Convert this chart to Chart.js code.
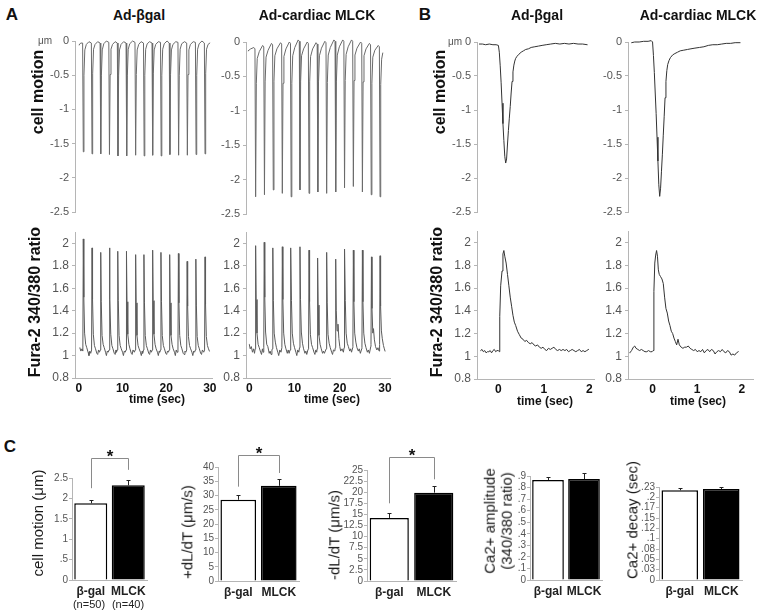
<!DOCTYPE html>
<html>
<head>
<meta charset="utf-8">
<script src="https://cdn.jsdelivr.net/npm/chart.js@4.4.1/dist/chart.umd.min.js"></script>
<style>
  html, body { margin: 0; padding: 0; background: #fff; }
  #fig { position: relative; width: 761px; height: 614px; overflow: hidden;
         font-family: "Liberation Sans", Arial, sans-serif; }
  #fig canvas { position: absolute; }
  .t { position: absolute; white-space: nowrap; color: #111; line-height: 1.15;
       text-align: center; transform: translate(-50%, -50%); }
  .v { transform: translate(-50%, -50%) rotate(-90deg); }
</style>
</head>
<body>
<div id="fig">
  <canvas id="amL"></canvas><canvas id="amR"></canvas>
  <canvas id="acL"></canvas><canvas id="acR"></canvas>
  <canvas id="bmL"></canvas><canvas id="bmR"></canvas>
  <canvas id="bcL"></canvas><canvas id="bcR"></canvas>
  <canvas id="c1"></canvas><canvas id="c2"></canvas><canvas id="c3"></canvas>
  <canvas id="c4"></canvas><canvas id="c5"></canvas>
</div>
<script>
// ---- Panel A: 30 s recordings, [time s, value] ----
var motionBgal30 = [
  [0.0,-0.06],[0.4,-0.03],
  [0.85,-0.03],[1.0,-1.62],[1.15,-0.5],[1.35,-0.13],[1.7,-0.05],[2.3,-0.01],
  [2.85,-0.03],[3.0,-1.65],[3.15,-0.48],[3.35,-0.12],[3.7,-0.05],[4.3,-0.01],
  [4.85,-0.03],[5.0,-1.65],[5.15,-0.5],[5.35,-0.13],[5.7,-0.04],[6.3,0.0],
  [6.85,-0.02],[7.0,-1.66],[7.15,-0.49],[7.35,-0.12],[7.7,-0.05],[8.3,-0.01],
  [8.8,-0.03],[8.95,-1.68],[9.1,-0.5],[9.3,-0.13],[9.65,-0.05],[10.25,-0.01],
  [10.8,-0.03],[10.95,-1.68],[11.1,-0.51],[11.3,-0.12],[11.65,-0.04],[12.3,0.0],
  [12.85,-0.02],[13.0,-1.67],[13.15,-0.49],[13.35,-0.13],[13.7,-0.05],[14.25,-0.01],
  [14.8,-0.03],[14.95,-1.68],[15.1,-0.5],[15.3,-0.12],[15.65,-0.04],[16.2,-0.01],
  [16.75,-0.03],[16.9,-1.67],[17.05,-0.48],[17.25,-0.13],[17.6,-0.05],[18.2,-0.01],
  [18.7,-0.02],[18.85,-1.68],[19.0,-0.5],[19.2,-0.12],[19.55,-0.04],[20.2,0.0],
  [20.7,-0.03],[20.85,-1.66],[21.0,-0.49],[21.2,-0.13],[21.55,-0.05],[22.2,-0.01],
  [22.7,-0.02],[22.85,-1.67],[23.0,-0.5],[23.2,-0.12],[23.55,-0.04],[24.2,-0.01],
  [24.7,-0.03],[24.85,-1.67],[25.0,-0.49],[25.2,-0.13],[25.55,-0.05],[26.2,-0.01],
  [26.7,-0.02],[26.85,-1.66],[27.0,-0.5],[27.2,-0.12],[27.55,-0.04],[28.2,0.0],
  [28.75,-0.03],[28.9,-1.65],[29.05,-0.48],[29.25,-0.12],[29.6,-0.05],[30.0,-0.03]
];
var motionMlck30 = [
  [-0.3,-0.13],[0.3,-0.1],[1.0,-0.08],
  [1.25,-0.1],[1.4,-2.25],[1.55,-0.6],[1.75,-0.24],[2.2,-0.14],[2.95,-0.05],
  [3.2,-0.07],[3.35,-2.22],[3.5,-0.58],[3.7,-0.22],[4.15,-0.12],[4.9,-0.02],
  [5.15,-0.04],[5.3,-2.15],[5.45,-0.57],[5.65,-0.2],[6.1,-0.1],[6.9,-0.01],
  [7.15,-0.03],[7.3,-2.2],[7.45,-0.6],[7.65,-0.21],[8.1,-0.1],[8.85,0.0],
  [9.1,-0.02],[9.25,-2.25],[9.4,-0.6],[9.6,-0.2],[10.05,-0.08],[10.8,0.03],
  [11.05,0.01],[11.2,-2.15],[11.35,-0.57],[11.55,-0.2],[12.0,-0.1],[12.8,0.0],
  [13.05,-0.02],[13.2,-2.2],[13.35,-0.58],[13.55,-0.21],[14.0,-0.1],[14.75,-0.01],
  [15.0,-0.03],[15.15,-2.18],[15.3,-0.58],[15.5,-0.2],[15.95,-0.09],[16.7,0.01],
  [16.95,-0.01],[17.1,-2.2],[17.25,-0.59],[17.45,-0.19],[17.9,-0.08],[18.7,0.03],
  [18.95,0.01],[19.1,-2.18],[19.25,-0.58],[19.45,-0.19],[19.9,-0.07],[20.65,0.03],
  [20.9,0.01],[21.05,-2.12],[21.2,-0.56],[21.4,-0.18],[21.85,-0.07],[22.6,0.03],
  [22.85,0.01],[23.0,-2.1],[23.15,-0.56],[23.35,-0.19],[23.8,-0.09],[24.6,0.0],
  [24.85,-0.02],[25.0,-2.18],[25.15,-0.58],[25.35,-0.2],[25.8,-0.1],[26.55,-0.02],
  [26.8,-0.04],[26.95,-2.22],[27.1,-0.6],[27.3,-0.22],[27.75,-0.12],[28.5,-0.05],
  [28.75,-0.07],[28.9,-2.25],[29.05,-0.62],[29.25,-0.25],[29.5,-0.16]
];
var fluoBgal30 = [
  [0.2,1.07],[0.45,1.04],[0.7,1.06],
  [0.9,1.04],[1.0,2.04],[1.12,1.52],[1.3,1.2],[1.55,1.1],[1.8,1.07],[2.1,1.03],[2.3,1.0],[2.5,1.04],[2.7,1.02],
  [2.9,1.05],[3.0,1.96],[3.12,1.5],[3.3,1.19],[3.55,1.09],[3.8,1.06],[4.1,1.02],[4.3,1.01],[4.5,1.05],[4.7,1.03],
  [4.9,1.05],[5.0,1.92],[5.12,1.48],[5.3,1.18],[5.55,1.1],[5.8,1.07],[6.1,1.03],[6.3,1.0],[6.5,1.04],[6.7,1.03],
  [6.9,1.05],[7.0,1.96],[7.12,1.5],[7.3,1.19],[7.55,1.09],[7.8,1.06],[8.1,1.02],[8.3,1.01],[8.5,1.05],[8.6,1.03],
  [8.8,1.05],[8.9,1.93],[9.02,1.49],[9.2,1.18],[9.45,1.09],[9.7,1.06],[10.0,1.03],[10.2,1.0],[10.4,1.04],[10.6,1.03],
  [10.8,1.05],[10.9,1.93],[11.02,1.48],[11.2,1.19],[11.45,1.1],[11.7,1.06],[12.0,1.02],[12.2,1.01],[12.4,1.05],[12.7,1.03],
  [12.9,1.05],[13.0,1.9],[13.12,1.47],[13.3,1.18],[13.55,1.09],[13.8,1.06],[14.1,1.03],[14.3,1.0],[14.5,1.04],[14.6,1.02],
  [14.8,1.05],[14.9,1.9],[15.02,1.47],[15.2,1.18],[15.45,1.09],[15.7,1.06],[16.0,1.02],[16.2,1.01],[16.4,1.05],[16.6,1.03],
  [16.8,1.05],[16.9,1.94],[17.02,1.49],[17.2,1.19],[17.45,1.1],[17.7,1.06],[18.0,1.03],[18.2,1.0],[18.4,1.04],[18.5,1.03],
  [18.7,1.05],[18.8,1.92],[18.92,1.48],[19.1,1.18],[19.35,1.09],[19.6,1.06],[19.9,1.02],[20.1,1.01],[20.3,1.04],[20.5,1.03],
  [20.7,1.05],[20.8,1.9],[20.92,1.47],[21.1,1.18],[21.35,1.1],[21.6,1.06],[21.9,1.03],[22.1,1.0],[22.3,1.05],[22.5,1.03],
  [22.7,1.05],[22.8,1.91],[22.92,1.47],[23.1,1.18],[23.35,1.09],[23.6,1.06],[23.9,1.02],[24.1,1.01],[24.3,1.04],[24.5,1.03],
  [24.7,1.05],[24.8,1.84],[24.92,1.44],[25.1,1.17],[25.35,1.09],[25.6,1.06],[25.9,1.03],[26.1,1.0],[26.3,1.04],[26.5,1.03],
  [26.7,1.05],[26.8,1.86],[26.92,1.45],[27.1,1.17],[27.35,1.09],[27.6,1.06],[27.9,1.02],[28.1,1.01],[28.3,1.05],[28.6,1.03],
  [28.8,1.05],[28.9,1.88],[29.02,1.46],[29.2,1.17],[29.45,1.09],[29.7,1.06],[29.9,1.04]
];
var fluoMlck30 = [
  [0.0,1.1],[0.2,1.06],[0.45,1.08],[0.7,1.03],[0.95,1.06],[1.15,1.02],
  [1.3,1.06],[1.4,1.98],[1.52,1.5],[1.7,1.2],[1.95,1.1],[2.2,1.07],[2.5,1.03],[2.7,1.01],[2.9,1.06],[3.05,1.03],
  [3.2,1.07],[3.3,2.01],[3.42,1.52],[3.6,1.21],[3.85,1.1],[4.1,1.08],[4.4,1.02],[4.6,1.04],[4.8,1.01],[5.0,1.05],
  [5.1,1.06],[5.2,1.96],[5.32,1.49],[5.5,1.2],[5.75,1.12],[6.0,1.07],[6.3,1.03],[6.5,1.0],[6.75,1.05],[7.0,1.03],
  [7.2,1.07],[7.3,1.97],[7.42,1.5],[7.6,1.2],[7.85,1.1],[8.1,1.06],[8.4,1.02],[8.6,1.05],[8.8,1.02],[9.0,1.05],
  [9.1,1.06],[9.2,1.96],[9.32,1.49],[9.5,1.2],[9.75,1.11],[10.0,1.07],[10.3,1.03],[10.5,1.0],[10.7,1.05],[10.95,1.03],
  [11.1,1.07],[11.2,1.97],[11.32,1.5],[11.5,1.21],[11.75,1.11],[12.0,1.06],[12.3,1.02],[12.5,1.04],[12.7,1.01],[12.95,1.05],
  [13.1,1.06],[13.2,1.94],[13.32,1.48],[13.5,1.19],[13.75,1.1],[14.0,1.07],[14.3,1.03],[14.5,1.01],[14.7,1.05],[14.9,1.03],
  [15.0,1.06],[15.1,1.87],[15.22,1.45],[15.4,1.18],[15.65,1.1],[15.9,1.06],[16.2,1.02],[16.4,1.04],[16.6,1.02],[16.9,1.05],
  [17.0,1.06],[17.1,1.92],[17.22,1.47],[17.4,1.19],[17.65,1.11],[17.9,1.07],[18.2,1.03],[18.4,1.01],[18.6,1.05],[18.9,1.04],
  [19.0,1.07],[19.1,1.86],[19.22,1.4],[19.4,1.22],[19.6,1.28],[19.8,1.15],[20.0,1.08],[20.2,1.04],[20.5,1.06],[20.8,1.03],[20.95,1.07],
  [21.0,1.08],[21.1,1.95],[21.22,1.49],[21.4,1.2],[21.65,1.11],[21.9,1.08],[22.2,1.04],[22.4,1.06],[22.6,1.03],[22.85,1.07],
  [22.9,1.08],[23.0,1.94],[23.12,1.48],[23.3,1.2],[23.55,1.12],[23.8,1.07],[24.1,1.04],[24.3,1.06],[24.55,1.02],[24.85,1.06],
  [24.9,1.07],[25.0,1.94],[25.12,1.48],[25.3,1.2],[25.55,1.11],[25.8,1.07],[26.1,1.03],[26.3,1.05],[26.55,1.02],[26.85,1.08],
  [26.9,1.1],[27.0,1.88],[27.12,1.42],[27.3,1.2],[27.45,1.24],[27.65,1.14],[27.9,1.08],[28.2,1.05],[28.45,1.07],[28.7,1.04],
  [28.8,1.1],[28.9,1.89],[29.02,1.44],[29.2,1.22],[29.4,1.15],[29.65,1.09],[29.85,1.06],[30.0,1.04]
];

// ---- Panel B: single beats, [time s, value] ----
var motionBgal1 = [
  [-0.42,-0.03],[-0.35,-0.03],[-0.28,-0.04],[-0.2,-0.03],[-0.12,-0.04],[-0.05,-0.04],[0.0,-0.05],
  [0.02,-0.15],[0.04,-0.35],[0.06,-0.6],[0.08,-0.9],[0.1,-1.2],[0.12,-1.45],[0.14,-1.68],[0.16,-1.78],
  [0.18,-1.72],[0.2,-1.5],[0.22,-1.3],[0.24,-1.12],[0.26,-0.95],[0.28,-0.75],[0.3,-0.58],[0.32,-0.44],
  [0.34,-0.34],[0.36,-0.28],[0.38,-0.24],[0.41,-0.21],[0.45,-0.18],[0.5,-0.15],[0.55,-0.13],[0.6,-0.11],
  [0.66,-0.1],[0.72,-0.08],[0.8,-0.07],[0.88,-0.06],[0.96,-0.05],[1.05,-0.04],[1.15,-0.03],[1.25,-0.02],
  [1.35,-0.03],[1.45,-0.02],[1.55,-0.03],[1.65,-0.02],[1.75,-0.03],[1.85,-0.03],[1.95,-0.04]
];
var motionMlck1 = [
  [-0.47,-0.01],[-0.4,0.0],[-0.3,0.0],[-0.2,0.01],[-0.1,0.01],[-0.03,0.02],[0.0,0.0],
  [0.02,-0.2],[0.04,-0.45],[0.06,-0.75],[0.08,-1.05],[0.1,-1.4],[0.12,-1.75],[0.14,-2.1],[0.16,-2.27],
  [0.18,-2.15],[0.2,-1.9],[0.22,-1.65],[0.24,-1.37],[0.26,-1.1],[0.28,-0.82],[0.3,-0.58],[0.32,-0.42],
  [0.34,-0.33],[0.37,-0.27],[0.4,-0.23],[0.45,-0.19],[0.5,-0.17],[0.56,-0.15],[0.62,-0.13],[0.7,-0.12],
  [0.78,-0.11],[0.86,-0.1],[0.95,-0.09],[1.05,-0.08],[1.15,-0.07],[1.25,-0.05],[1.35,-0.04],[1.45,-0.04],
  [1.55,-0.03],[1.65,-0.02],[1.75,-0.02],[1.85,-0.01],[1.96,-0.01]
];
var fluoBgal1 = [
  [-0.39,1.05],[-0.36,1.06],[-0.33,1.04],[-0.3,1.05],[-0.27,1.03],[-0.24,1.04],[-0.21,1.04],[-0.18,1.05],
  [-0.15,1.03],[-0.12,1.05],[-0.09,1.06],[-0.06,1.04],[-0.03,1.05],[0.0,1.05],[0.02,1.04],[0.03,1.35],
  [0.05,1.62],[0.08,1.75],[0.1,1.9],[0.12,1.93],[0.14,1.88],[0.17,1.82],[0.2,1.72],[0.23,1.62],[0.26,1.52],
  [0.29,1.44],[0.32,1.36],[0.35,1.3],[0.38,1.27],[0.42,1.22],[0.46,1.19],[0.5,1.16],[0.54,1.15],[0.58,1.13],
  [0.62,1.14],[0.66,1.12],[0.7,1.11],[0.74,1.12],[0.78,1.1],[0.82,1.09],[0.86,1.1],[0.9,1.08],[0.94,1.07],
  [0.98,1.08],[1.02,1.06],[1.06,1.05],[1.1,1.07],[1.14,1.06],[1.18,1.07],[1.22,1.08],[1.26,1.06],[1.3,1.05],
  [1.34,1.06],[1.38,1.05],[1.42,1.06],[1.46,1.05],[1.5,1.06],[1.54,1.04],[1.58,1.05],[1.62,1.06],[1.66,1.05],
  [1.7,1.04],[1.74,1.05],[1.78,1.06],[1.82,1.04],[1.86,1.05],[1.9,1.04],[1.94,1.05],[1.98,1.06]
];
var fluoMlck1 = [
  [-0.51,1.03],[-0.47,1.05],[-0.43,1.08],[-0.4,1.09],[-0.37,1.07],[-0.33,1.06],[-0.29,1.05],[-0.25,1.06],
  [-0.21,1.05],[-0.17,1.04],[-0.13,1.04],[-0.09,1.05],[-0.05,1.04],[-0.01,1.04],[0.01,1.05],[0.03,1.57],
  [0.05,1.82],[0.07,1.89],[0.09,1.93],[0.11,1.88],[0.13,1.76],[0.15,1.72],[0.18,1.7],[0.21,1.68],[0.24,1.64],
  [0.27,1.52],[0.3,1.42],[0.33,1.38],[0.36,1.31],[0.39,1.27],[0.42,1.22],[0.45,1.2],[0.48,1.16],[0.51,1.13],
  [0.54,1.1],[0.57,1.15],[0.6,1.1],[0.64,1.08],[0.68,1.07],[0.72,1.08],[0.76,1.08],[0.8,1.09],[0.84,1.07],
  [0.88,1.06],[0.92,1.05],[0.96,1.06],[1.0,1.04],[1.04,1.05],[1.08,1.04],[1.12,1.06],[1.16,1.03],[1.2,1.05],
  [1.24,1.06],[1.28,1.04],[1.32,1.06],[1.36,1.05],[1.4,1.02],[1.44,1.04],[1.48,1.05],[1.52,1.04],[1.56,1.06],
  [1.6,1.04],[1.64,1.03],[1.68,1.05],[1.72,1.04],[1.76,1.01],[1.8,1.02],[1.84,1.01],[1.88,1.03],[1.92,1.04]
];

// ---- Axis ticks ----
var motionTicks = [-2.5, -2, -1.5, -1, -0.5, 0];
var motionLabels = ['-2.5', '-2', '-1.5', '-1', '-0.5', '0'];
var ratioTicks = [0.8, 1, 1.2, 1.4, 1.6, 1.8, 2];
var ratioLabels = ['0.8', '1', '1.2', '1.4', '1.6', '1.8', '2'];
var time30Ticks = [0, 10, 20, 30];
var time2Ticks = [0, 1, 2];

// ---- Panel C: means and SEM ----
var groups = ['β-gal', 'MLCK'];
var motionMean = [1.88, 2.32];   var motionErr = [0.07, 0.13];
var plusMean = [28.5, 33.4];     var plusErr = [1.8, 2.4];
var minusMean = [14.2, 19.9];    var minusErr = [1.1, 1.5];
var ampMean = [0.865, 0.874];    var ampErr = [0.024, 0.048];
var decayMean = [0.217, 0.220];  var decayErr = [0.006, 0.004];
// significance bracket: left foot, top, right foot, star (data units)
var motionSig = [2.25, 2.99, 2.7, 3.1];
var plusSig = [33.1, 44.2, 37.9, 45.8];
var minusSig = [17.5, 28.0, 22.9, 29.0];

var cMotionTicks = [0, 0.5, 1, 1.5, 2, 2.5];
var cMotionLabels = ['0', '.5', '1', '1.5', '2', '2.5'];
var cPlusTicks = [0, 5, 10, 15, 20, 25, 30, 35, 40];
var cPlusLabels = ['0', '5', '10', '15', '20', '25', '30', '35', '40'];
var cMinusTicks = [0, 2.5, 5, 7.5, 10, 12.5, 15, 17.5, 20, 22.5, 25];
var cMinusLabels = ['0', '2.5', '5', '7.5', '10', '12.5', '15', '17.5', '20', '22.5', '25'];
var cAmpTicks = [0, 0.1, 0.2, 0.3, 0.4, 0.5, 0.6, 0.7, 0.8, 0.9];
var cAmpLabels = ['0', '.1', '.2', '.3', '.4', '.5', '.6', '.7', '.8', '.9'];
var cDecayTicks = [0, 0.025, 0.05, 0.075, 0.1, 0.125, 0.15, 0.175, 0.2, 0.225];
var cDecayLabels = ['0', '.03', '.05', '.08', '.1', '.12', '.15', '.17', '.2', '.23'];

Chart.defaults.font.family = '"Liberation Sans", Arial, sans-serif';
var AXIS = '#b5b5b5';

function xy(pts) {
  return pts.map(function(p) { return { x: p[0], y: p[1] }; });
}

function fixedTicks(vals) {
  return function(s) { s.ticks = vals.map(function(v) { return { value: v }; }); };
}

// trace chart placed so that its plot area lands on 'area'
function traceChart(id, area, pts, color, xr, xTicks, yr, yTicks, yLabels, yFont) {
  var YW = 40, PT = 10, PR = 14, PB = 10, XH = xTicks ? 22 : 0;
  var cv = document.getElementById(id);
  cv.width = area.x1 - area.x0 + YW + PR;
  cv.height = area.y1 - area.y0 + PT + XH + PB;
  cv.style.left = (area.x0 - YW) + 'px';
  cv.style.top = (area.y0 - PT) + 'px';
  new Chart(cv, {
    type: 'line',
    data: { datasets: [{ data: xy(pts), borderColor: color, borderWidth: 1,
      borderJoinStyle: 'round', borderCapStyle: 'round',
      pointRadius: 0, tension: 0, fill: false, clip: false }] },
    options: {
      responsive: false, animation: false, events: [],
      layout: { padding: { left: 0, top: PT, right: PR, bottom: PB } },
      plugins: { legend: { display: false }, tooltip: { enabled: false } },
      scales: {
        x: {
          type: 'linear', min: xr[0], max: xr[1], display: !!xTicks,
          afterBuildTicks: fixedTicks(xTicks || []),
          afterFit: function(s) { s.height = XH; },
          grid: { display: false, drawTicks: false },
          border: { color: AXIS },
          ticks: { autoSkip: false, maxRotation: 0, padding: 3, color: '#111',
            font: { size: 12, weight: 'bold' },
            callback: function(v) { return String(v); } }
        },
        y: {
          min: yr[0], max: yr[1],
          afterBuildTicks: fixedTicks(yTicks),
          afterFit: function(s) { s.width = YW; },
          grid: { display: true, drawOnChartArea: false, tickLength: 3, color: AXIS },
          border: { color: AXIS },
          ticks: { autoSkip: false, padding: 3, color: '#555', font: { size: yFont },
            callback: function(v, i) { return yLabels[i]; } }
        }
      }
    }
  });
}

// error bars and significance bracket for the panel C bar charts
var barExtras = {
  id: 'barExtras',
  afterDatasetsDraw: function(chart, args, opts) {
    var ctx = chart.ctx, xs = chart.scales.x, ys = chart.scales.y;
    var means = chart.data.datasets[0].data;
    ctx.save();
    ctx.strokeStyle = '#222';
    ctx.lineWidth = 1;
    for (var i = 0; i < means.length; i++) {
      var cx = Math.round(xs.getPixelForValue(i)) + 0.5;
      var base = ys.getPixelForValue(means[i]);
      var top = Math.round(ys.getPixelForValue(means[i] + opts.err[i])) + 0.5;
      ctx.beginPath();
      ctx.moveTo(cx, base); ctx.lineTo(cx, top);
      ctx.moveTo(cx - 2, top); ctx.lineTo(cx + 2, top);
      ctx.stroke();
    }
    if (opts.sig) {
      var s = opts.sig;
      var xl = Math.round(xs.getPixelForValue(0)) + 0.5;
      var xr = Math.round(xs.getPixelForValue(1)) + 0.5;
      var yt = Math.round(ys.getPixelForValue(s[1])) + 0.5;
      ctx.strokeStyle = '#8a8a8a';
      ctx.beginPath();
      ctx.moveTo(xl, ys.getPixelForValue(s[0]));
      ctx.lineTo(xl, yt); ctx.lineTo(xr, yt);
      ctx.lineTo(xr, ys.getPixelForValue(s[2]));
      ctx.stroke();
      ctx.fillStyle = '#111';
      ctx.font = 'bold 17px "Liberation Sans", Arial, sans-serif';
      ctx.textAlign = 'center';
      ctx.textBaseline = 'middle';
      ctx.fillText('*', (xl + xr) / 2, ys.getPixelForValue(s[3]) + 4);
    }
    ctx.restore();
  }
};

function barChart(id, area, means, errs, sig, yMax, yTicks, yLabels) {
  var YW = 30, PR = 6, PB = 4, XH = 20, TOP = 440;
  var PT = area.y0 - TOP;
  var cv = document.getElementById(id);
  cv.width = area.x1 - area.x0 + YW + PR;
  cv.height = area.y1 - TOP + XH + PB;
  cv.style.left = (area.x0 - YW) + 'px';
  cv.style.top = TOP + 'px';
  new Chart(cv, {
    type: 'bar',
    data: { labels: groups, datasets: [{ data: means,
      backgroundColor: ['#ffffff', '#000000'], borderColor: '#000',
      borderWidth: 1.5, categoryPercentage: 1, barPercentage: 0.88 }] },
    options: {
      responsive: false, animation: false, events: [],
      layout: { padding: { left: 0, top: PT, right: PR, bottom: PB } },
      plugins: { legend: { display: false }, tooltip: { enabled: false },
        barExtras: { err: errs, sig: sig } },
      scales: {
        x: {
          afterFit: function(s) { s.height = XH; },
          grid: { display: false, drawTicks: false },
          border: { color: AXIS },
          ticks: { padding: 4, color: '#222', autoSkip: false, maxRotation: 0, minRotation: 0,
            font: { size: 12, weight: 'bold' } }
        },
        y: {
          min: 0, max: yMax,
          afterBuildTicks: fixedTicks(yTicks),
          afterFit: function(s) { s.width = YW; },
          grid: { display: true, drawOnChartArea: false, tickLength: 3, color: AXIS },
          border: { color: AXIS },
          ticks: { autoSkip: false, padding: 1, color: '#555', font: { size: 10 },
            callback: function(v, i) { return yLabels[i]; } }
        }
      }
    },
    plugins: [barExtras]
  });
}

function label(text, x, y, css, vertical) {
  var d = document.createElement('div');
  d.className = vertical ? 't v' : 't';
  d.innerHTML = text;
  d.style.left = x + 'px';
  d.style.top = y + 'px';
  d.style.cssText += css;
  document.getElementById('fig').appendChild(d);
}

// Panel A
traceChart('amL', { x0: 75, x1: 212, y0: 41, y1: 212 }, motionBgal30, '#6a6a6a',
  [-0.9, 30.5], null, [-2.5, 0], motionTicks, motionLabels, 11);
traceChart('amR', { x0: 246, x1: 390, y0: 42, y1: 214 }, motionMlck30, '#6a6a6a',
  [-0.73, 31.1], null, [-2.5, 0], motionTicks, motionLabels, 11);
traceChart('acL', { x0: 75, x1: 212, y0: 232, y1: 378 }, fluoBgal30, '#5a5a5a',
  [-0.9, 30.5], time30Ticks, [0.8, 2.1], ratioTicks, ratioLabels, 12);
traceChart('acR', { x0: 246, x1: 390, y0: 232, y1: 378 }, fluoMlck30, '#5a5a5a',
  [-0.73, 31.1], time30Ticks, [0.8, 2.1], ratioTicks, ratioLabels, 12);

// Panel B
traceChart('bmL', { x0: 477, x1: 594, y0: 42, y1: 212 }, motionBgal1, '#333',
  [-0.47, 2.1], null, [-2.5, 0], motionTicks, motionLabels, 11);
traceChart('bmR', { x0: 628, x1: 753, y0: 42, y1: 212 }, motionMlck1, '#333',
  [-0.55, 2.25], null, [-2.5, 0], motionTicks, motionLabels, 11);
traceChart('bcL', { x0: 477, x1: 594, y0: 231, y1: 379 }, fluoBgal1, '#333',
  [-0.47, 2.1], time2Ticks, [0.8, 2.1], ratioTicks, ratioLabels, 12);
traceChart('bcR', { x0: 628, x1: 753, y0: 231, y1: 379 }, fluoMlck1, '#333',
  [-0.55, 2.25], time2Ticks, [0.8, 2.1], ratioTicks, ratioLabels, 12);

// Panel C
barChart('c1', { x0: 72, x1: 147, y0: 478, y1: 580 }, motionMean, motionErr, motionSig,
  2.5, cMotionTicks, cMotionLabels);
barChart('c2', { x0: 218, x1: 299, y0: 467, y1: 581 }, plusMean, plusErr, plusSig,
  40, cPlusTicks, cPlusLabels);
barChart('c3', { x0: 367, x1: 456, y0: 470, y1: 581 }, minusMean, minusErr, minusSig,
  25, cMinusTicks, cMinusLabels);
barChart('c4', { x0: 530, x1: 602, y0: 476, y1: 580 }, ampMean, ampErr, null,
  0.9, cAmpTicks, cAmpLabels);
barChart('c5', { x0: 659, x1: 742, y0: 487, y1: 580 }, decayMean, decayErr, null,
  0.225, cDecayTicks, cDecayLabels);

// Text
var big = 'font-weight:bold;font-size:17px;';
var head = 'font-weight:bold;font-size:14px;';
var axT = 'font-weight:bold;font-size:16px;';
var tim = 'font-weight:bold;font-size:12px;';
var cT = 'font-size:15px;color:#1a1a1a;';
label('A', 12, 15, big);
label('B', 425, 15, big);
label('C', 10, 447, big);
label('Ad-βgal', 139, 15, head);
label('Ad-cardiac MLCK', 317, 15, head);
label('Ad-βgal', 537, 15, head);
label('Ad-cardiac MLCK', 698, 15, head);
label('μm', 45, 41, 'font-size:10px;color:#555;');
label('μm', 455, 42, 'font-size:10px;color:#555;');
label('cell motion', 38, 92, axT, true);
label('cell motion', 440, 92, axT, true);
label('Fura-2 340/380 ratio', 35, 302, axT, true);
label('Fura-2 340/380 ratio', 437, 302, axT, true);
label('time (sec)', 157, 400, tim);
label('time (sec)', 332, 400, tim);
label('time (sec)', 545, 402, tim);
label('time (sec)', 698, 402, tim);
label('cell motion (μm)', 38, 523, cT, true);
label('+dL/dT (μm/s)', 187, 532, cT, true);
label('-dL/dT (μm/s)', 334, 535, cT, true);
label('Ca2+ amplitude<br>(340/380 ratio)', 498, 521, cT, true);
label('Ca2+ decay (sec)', 632, 520, cT, true);
label('(n=50)', 89, 604, 'font-size:11px;color:#222;');
label('(n=40)', 128, 604, 'font-size:11px;color:#222;');
</script>
</body>
</html>
